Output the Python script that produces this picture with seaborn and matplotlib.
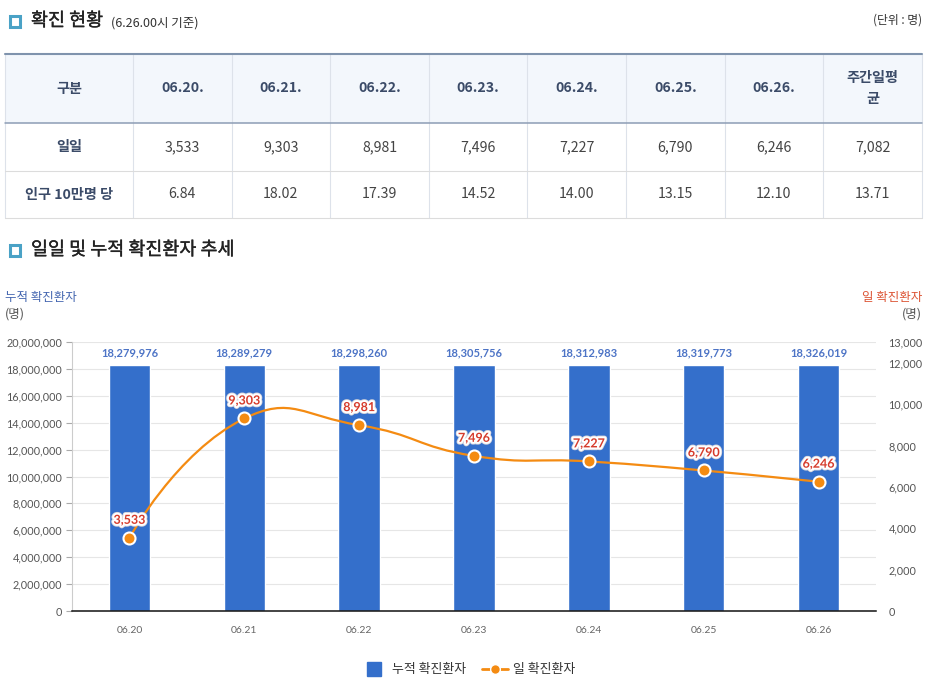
import numpy as np
import matplotlib
matplotlib.use('Agg')
import matplotlib.pyplot as plt
import seaborn as sns
from matplotlib.patches import Rectangle, PathPatch
from matplotlib.path import Path
from matplotlib.lines import Line2D
from matplotlib.ticker import FuncFormatter
import matplotlib.patheffects as pe

# data
dates = ['06.20', '06.21', '06.22', '06.23', '06.24', '06.25', '06.26']
daily = [3533, 9303, 8981, 7496, 7227, 6790, 6246]
per_100k = [6.84, 18.02, 17.39, 14.52, 14.00, 13.15, 12.10]
cumulative = [18279976, 18289279, 18298260, 18305756, 18312983, 18319773, 18326019]
weekly_avg = 7082
weekly_avg_100k = 13.71

left_ticks = list(range(0, 20_000_001, 2_000_000))
right_ticks = [0, 2000, 4000, 6000, 8000, 10000, 12000, 13000]

BAR_BLUE = '#346fcb'
ORANGE = '#f48b12'
NAVY = '#3b4b68'
ICON = '#4aa2c6'

sns.set_style('white')
plt.rcParams['font.family'] = ['Lato', 'Noto Sans CJK KR', 'DejaVu Sans']
KR = ['Noto Sans CJK KR', 'DejaVu Sans']

W, H = 927, 678
fig = plt.figure(figsize=(W / 100, H / 100), dpi=100)
fig.patch.set_facecolor('white')

# background axes in pixel units for titles and table
bg = fig.add_axes([0, 0, 1, 1])
bg.set_xlim(0, W)
bg.set_ylim(H, 0)
bg.axis('off')


def section_title(y, text):
    bg.add_patch(Rectangle((10, y - 5.5), 10, 11, facecolor='white',
                           edgecolor=ICON, lw=2.2))
    bg.text(31, y, text, fontsize=13.3, color='#222222', family=KR,
            va='center', ha='left',
            path_effects=[pe.Stroke(linewidth=0.25, foreground='#222222'), pe.Normal()])


section_title(21, '확진 현황')
bg.text(111, 23, '(6.26.00시 기준)', fontsize=9, color='#333333',
        family=KR, va='center', ha='left')
bg.text(922, 20, '(단위 : 명)', fontsize=8.5, color='#333333', family=KR,
        va='center', ha='right')

# table
col_edges = [5, 133] + [133 + 98.6 * (k + 1) for k in range(8)]
row_edges = [54, 123, 171, 218]
header = ['구분'] + [d + '.' for d in dates] + ['주간일평\n균']
row1 = ['일일'] + [f'{v:,}' for v in daily] + [f'{weekly_avg:,}']
row2 = ['인구 10만명 당'] + [f'{v:.2f}' for v in per_100k] + [f'{weekly_avg_100k:.2f}']

bg.add_patch(Rectangle((col_edges[0], row_edges[0]), col_edges[-1] - col_edges[0],
                       row_edges[1] - row_edges[0], facecolor='#f3f7fc', lw=0))
for x in col_edges:
    bg.plot([x, x], [row_edges[0], row_edges[-1]], color='#dde2ea', lw=0.8)
bg.plot([col_edges[0], col_edges[-1]], [row_edges[0]] * 2, color='#7f93ad', lw=1.5)
bg.plot([col_edges[0], col_edges[-1]], [row_edges[1]] * 2, color='#8d9db5', lw=1.1)
for y in row_edges[2:]:
    bg.plot([col_edges[0], col_edges[-1]], [y, y], color='#dcdcdc', lw=0.8)

for r, row in enumerate([header, row1, row2]):
    yc = (row_edges[r] + row_edges[r + 1]) / 2
    for c, txt in enumerate(row):
        xc = (col_edges[c] + col_edges[c + 1]) / 2
        bold = r == 0 or c == 0
        bg.text(xc, yc, txt, ha='center', va='center', fontsize=10.2, family=KR,
                fontweight='bold' if bold else 'normal',
                color=NAVY if bold else '#444444', linespacing=1.6)

section_title(250, '일일 및 누적 확진환자 추세')

# axis titles
bg.text(5, 297, '누적 확진환자', fontsize=9, color='#4466b0', family=KR,
        va='center', ha='left')
bg.text(5, 314, '(명)', fontsize=9, color='#555555', family=KR,
        va='center', ha='left')
bg.text(922, 297, '일 확진환자', fontsize=9, color='#dc5434', family=KR,
        va='center', ha='right')
bg.text(922, 314, '(명)', fontsize=9, color='#555555', family=KR,
        va='center', ha='right')

# chart
ax = fig.add_axes([72 / W, 1 - 611 / H, 804 / W, 269 / H])
sns.barplot(x=dates, y=cumulative, color=BAR_BLUE, saturation=1, width=0.36,
            errorbar=None, ax=ax, zorder=2)
ax2 = ax.twinx()
xpos = np.arange(len(dates))
sns.scatterplot(x=xpos, y=daily, ax=ax2, s=75, color=ORANGE, edgecolor='white',
                linewidth=1.5, zorder=4, legend=False)

ax.set_xlim(-0.5, len(dates) - 0.5)
ax.set_ylim(0, 20_000_000)
ax.set_yticks(left_ticks)
ax.yaxis.set_major_formatter(FuncFormatter(lambda v, p: f'{v:,.0f}'))
ax.grid(axis='y', color='#e6e6e6', lw=0.8)
ax.set_axisbelow(True)
ax.tick_params(axis='y', left=True, length=4, width=0.8, color='#aaaaaa', pad=3,
               labelsize=7.8, labelcolor='#555555')
ax.tick_params(axis='x', bottom=False, length=0, pad=11, labelsize=7.5,
               labelcolor='#666666')
ax.set_xlabel('')
ax.set_ylabel('')
for s in ['top', 'right']:
    ax.spines[s].set_visible(False)
ax.spines['left'].set_color('#cccccc')
ax.spines['left'].set_linewidth(0.8)
ax.spines['bottom'].set_color('#111111')
ax.spines['bottom'].set_linewidth(1.1)

ax2.set_ylim(0, 13000)
ax2.set_yticks(right_ticks)
ax2.yaxis.set_major_formatter(FuncFormatter(lambda v, p: f'{v:,.0f}'))
ax2.tick_params(axis='y', right=True, length=0, pad=9, labelsize=7.8,
                labelcolor='#555555')
ax2.set_xlabel('')
ax2.set_ylabel('')
for s in ax2.spines.values():
    s.set_visible(False)
ax2.grid(False)

# smooth line (bezier through the points, control points in screen space)
pts = ax2.transData.transform(np.column_stack([xpos, daily]))
smooth = 0.5
cp_in = pts.copy()
cp_out = pts.copy()
for i in range(1, len(pts) - 1):
    v = pts[i + 1] - pts[i - 1]
    l0 = np.hypot(*(pts[i] - pts[i - 1]))
    l1 = np.hypot(*(pts[i + 1] - pts[i]))
    ratio = l1 / (l0 + l1)
    cp_in[i] = pts[i] - v * smooth * (1 - ratio)
    cp_out[i] = pts[i] + v * smooth * ratio
verts = [pts[0]]
codes = [Path.MOVETO]
for i in range(len(pts) - 1):
    verts += [cp_out[i], cp_in[i + 1], pts[i + 1]]
    codes += [Path.CURVE4] * 3
verts = ax2.transData.inverted().transform(np.array(verts))
ax2.add_patch(PathPatch(Path(verts, codes), fill=False, edgecolor=ORANGE,
                        lw=1.6, zorder=3))

# labels
for i, v in enumerate(cumulative):
    ax.annotate(f'{v:,}', xy=(i, v), xytext=(0, 8.5), textcoords='offset points',
                ha='center', va='center', fontsize=8, fontweight='bold',
                color='#4d74c6')
halo = [pe.Stroke(linewidth=4, foreground='#d4d4dc'),
        pe.Stroke(linewidth=2.8, foreground='white'), pe.Normal()]
for i, v in enumerate(daily):
    ax2.annotate(f'{v:,}', xy=(i, v), xytext=(0, 13), textcoords='offset points',
                 ha='center', va='center', fontsize=9, fontweight='bold',
                 color='#d63c2c', path_effects=halo, zorder=5)

# legend
handles = [Line2D([], [], marker='s', ls='none', markersize=10, color=BAR_BLUE),
           Line2D([], [], color=ORANGE, lw=2, marker='o', markersize=7,
                  markeredgecolor='white', markeredgewidth=1)]
leg = fig.legend(handles, ['누적 확진환자', '일 확진환자'], loc='center',
                 bbox_to_anchor=(468 / W, 1 - 670 / H), ncol=2, frameon=False,
                 prop={'family': KR, 'size': 9.3}, handlelength=2,
                 columnspacing=1.2, handletextpad=0.4)
for t in leg.get_texts():
    t.set_color('#333333')

fig.savefig('out.png', dpi=100, facecolor='white')
